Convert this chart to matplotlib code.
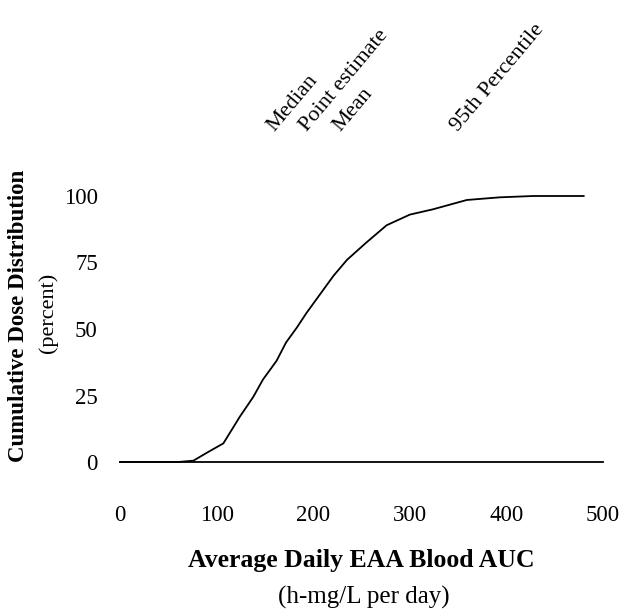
import matplotlib.pyplot as plt

# cumulative dose distribution
auc = [0, 60, 76, 90, 107, 124, 138, 148, 162, 172, 183, 193, 210, 221,
       235, 255, 276, 300, 324, 359, 393, 428, 480]
pct = [0, 0, 0.5, 3.5, 7, 17, 24.5, 31, 38, 45, 50.5, 56, 64.5, 70,
       76, 82.5, 89, 93, 95, 98.5, 99.5, 100, 100]

xticks = [0, 100, 200, 300, 400, 500]
yticks = [0, 25, 50, 75, 100]

# labels above the plot, at their x position (data units)
markerNames = ["Median", "Point estimate", "Mean", "95th Percentile"]
markerX = [164, 198, 232, 354]

plt.rcParams['font.family'] = ['Liberation Serif', 'DejaVu Serif']

fig = plt.figure(figsize=(6.44, 6.10), dpi=100)
ax = fig.add_axes([120 / 644, (610 - 462) / 610, 483 / 644, 266 / 610])

ax.plot(auc, pct, color='black', lw=1.3, clip_on=False)
ax.set_xlim(0, 500)
ax.set_ylim(0, 100)

for side in ['top', 'right', 'left']:
    ax.spines[side].set_visible(False)
ax.spines['bottom'].set_linewidth(1.3)

ax.set_xticks(xticks)
ax.set_yticks(yticks)
ax.tick_params(length=0, labelsize=16.5)
ax.tick_params(axis='x', pad=31)
ax.tick_params(axis='y', pad=16)

for name, x in zip(markerNames, markerX):
    ax.text(x, 123, name, rotation=50, rotation_mode='anchor',
            ha='left', va='bottom', fontsize=16, clip_on=False)

fig.text(361 / 644, (610 - 560) / 610, "Average Daily EAA Blood AUC",
         ha='center', va='center', fontsize=18.5, fontweight='bold')
fig.text(364 / 644, (610 - 597) / 610, "(h-mg/L per day)",
         ha='center', va='center', fontsize=18)

fig.text(19 / 644, (610 - 316) / 610, "Cumulative Dose Distribution",
         ha='center', va='center', rotation=90, fontsize=16.5, fontweight='bold')
fig.text(48 / 644, (610 - 313) / 610, "(percent)",
         ha='center', va='center', rotation=90, fontsize=16)

fig.savefig("out.png", dpi=100)
